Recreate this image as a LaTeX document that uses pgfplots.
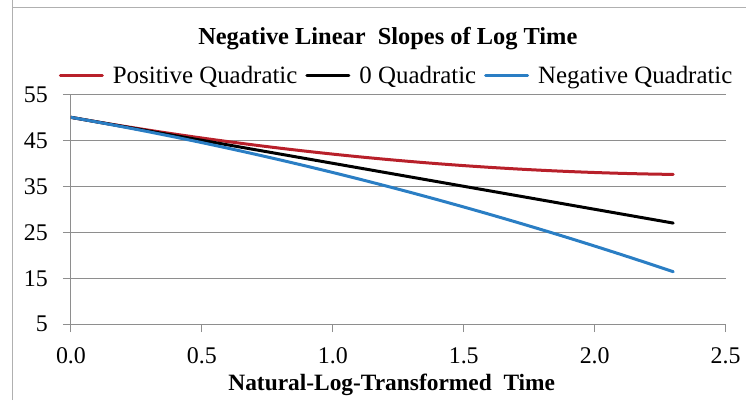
\documentclass[border=0pt]{standalone}
\usepackage{pgfplots}
\pgfplotsset{compat=1.18}
\usepackage{fontspec}
\setmainfont{Liberation Serif}
\definecolor{pqred}{HTML}{B8202A}
\definecolor{nqblue}{HTML}{2A7EC4}
\definecolor{gridgray}{HTML}{8E8E8E}
\begin{document}
\begin{tikzpicture}
\path (-71bp,-76bp) rectangle (675bp,324bp);
\draw[color=gridgray!70,line width=0.8bp] (-59bp,-76bp) -- (-59bp,317bp) -- (675bp,317bp);
\draw[color=gridgray!70,line width=0.8bp] (-59bp,317bp) -- (-59bp,324bp);
\begin{axis}[
  at={(0,0)}, anchor=south west,
  scale only axis,
  width=655bp, height=230bp,
  xmin=0, xmax=2.5, ymin=5, ymax=55,
  xtick={0,0.5,1,1.5,2,2.5},
  ytick={5,15,25,35,45,55},
  xticklabels={0.0,0.5,1.0,1.5,2.0,2.5},
  axis x line=bottom, axis y line=left,
  axis line style={-, color=gridgray, line width=1bp},
  tick style={color=gridgray, line width=1bp},
  tick align=outside,
  major tick length=8bp,
  ymajorgrids,
  grid style={color=gridgray, line width=1bp},
  tick label style={font=\fontsize{24}{28}\selectfont},
  /pgf/number format/assume math mode=true,
  xticklabel style={anchor=north, inner sep=0pt, yshift=-15bp},
  yticklabel style={anchor=east, inner sep=0pt, xshift=-15bp},
  title={Negative Linear\ \ Slopes of Log Time},
  title style={font=\fontsize{24.5}{28}\selectfont\bfseries, at={(0.484,1.191)}, anchor=base},
  xlabel={Natural-Log-Transformed\ \ Time},
  xlabel style={font=\fontsize{23.5}{27}\selectfont\bfseries, at={(0.49,0)}, anchor=center, yshift=-61bp},
  legend columns=3,
  legend style={draw=none, fill=none, at={(0.496,1.083)}, anchor=center,
    font=\fontsize{25}{29}\selectfont, column sep=9bp, inner sep=0pt,
    nodes={inner sep=0pt},
    /tikz/every even column/.append style={column sep=8bp}},
  legend image code/.code={\draw[#1, line width=3bp] (0bp,0bp) -- (42bp,0bp);},
  every axis plot/.append style={line width=3bp, line join=round, line cap=round, smooth},
]
\addplot[color=pqred] coordinates {
(0,50) (0.1,49.02) (0.2,48.08) (0.3,47.18) (0.4,46.32) (0.5,45.5) (0.6,44.72) (0.7,43.98) (0.8,43.28) (0.9,42.62) (1.0,42) (1.1,41.42) (1.2,40.88) (1.3,40.38) (1.4,39.92) (1.5,39.5) (1.6,39.12) (1.7,38.78) (1.8,38.48) (1.9,38.22) (2.0,38) (2.1,37.82) (2.2,37.68) (2.3,37.58)};
\addlegendentry{Positive Quadratic}
\addplot[color=black] coordinates {
(0,50) (0.5,45) (1.0,40) (1.5,35) (2.0,30) (2.3,27)};
\addlegendentry{0 Quadratic}
\addplot[color=nqblue] coordinates {
(0,50) (0.1,48.98) (0.2,47.92) (0.3,46.82) (0.4,45.68) (0.5,44.5) (0.6,43.28) (0.7,42.02) (0.8,40.72) (0.9,39.38) (1.0,38) (1.1,36.58) (1.2,35.12) (1.3,33.62) (1.4,32.08) (1.5,30.5) (1.6,28.88) (1.7,27.22) (1.8,25.52) (1.9,23.78) (2.0,22) (2.1,20.18) (2.2,18.32) (2.3,16.42)};
\addlegendentry{Negative Quadratic}
\end{axis}
\end{tikzpicture}
\end{document}
